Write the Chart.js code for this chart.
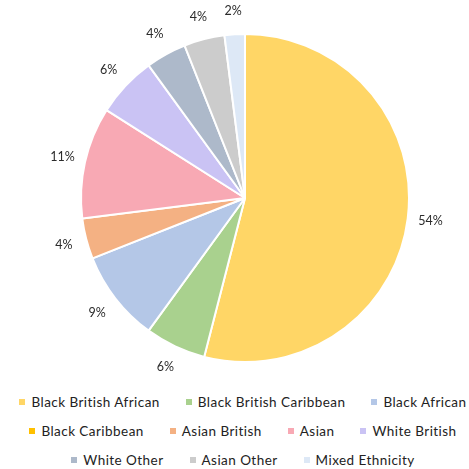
<!DOCTYPE html>
<html>
<head>
<meta charset="utf-8">
<script src="https://cdn.jsdelivr.net/npm/chart.js@4.4.1/dist/chart.umd.min.js"></script>
<style>
  html, body { margin: 0; padding: 0; background: #ffffff; overflow: hidden; }
  #page { position: relative; width: 469px; height: 469px; }
  #plot { position: absolute; left: 0; top: 0; width: 469px; height: 385px; }
  #legend {
    position: absolute; left: 0; top: 392px; width: 486px;
    display: flex; flex-wrap: wrap; justify-content: center;
    column-gap: 26px; row-gap: 9px;
    font-family: 'Lato', 'Open Sans', sans-serif; font-size: 13.5px;
    letter-spacing: 0.45px; color: #222222;
  }
  #legend .item { display: flex; align-items: center; height: 20px; white-space: nowrap; cursor: default; }
  #legend .box { width: 6px; height: 6px; margin-right: 6px; flex: none; }
</style>
</head>
<body>
<div id="page">
  <div id="plot"><canvas id="chart"></canvas></div>
  <div id="legend"></div>
</div>
<script>
// Ethnicity breakdown (percent of total)
const categories = [
  'Black British African', 'Black British Caribbean', 'Black African',
  'Black Caribbean', 'Asian British', 'Asian', 'White British',
  'White Other', 'Asian Other', 'Mixed Ethnicity'
];
const shares = [54, 6, 9, 0, 4, 11, 6, 4, 4, 2];
const sliceColors = [
  '#FFD666', '#A9D18E', '#B4C7E7', '#FFC000', '#F4B183',
  '#F8A9B4', '#CAC3F4', '#ADB9CA', '#CCCCCC', '#DDE8F6'
];

const FONT = "'Lato', 'Open Sans', sans-serif";

// Writes each slice's percentage just outside its outer edge
const outsideLabels = {
  id: 'outsideLabels',
  afterDatasetsDraw(chart) {
    const ctx = chart.ctx;
    const meta = chart.getDatasetMeta(0);
    const values = chart.data.datasets[0].data;
    ctx.save();
    ctx.font = '12.5px ' + FONT;
    ctx.fillStyle = '#2b2b2b';
    ctx.textAlign = 'center';
    ctx.textBaseline = 'middle';
    meta.data.forEach((arc, i) => {
      if (!values[i]) return;
      const p = arc.getProps(['x', 'y', 'startAngle', 'endAngle', 'outerRadius'], true);
      const mid = (p.startAngle + p.endAngle) / 2;
      const r = p.outerRadius + 23;
      ctx.fillText(values[i] + '%', p.x + Math.cos(mid) * r, p.y + Math.sin(mid) * r);
    });
    ctx.restore();
  }
};

// Builds the legend below the pie from the chart's own legend items
const htmlLegend = {
  id: 'htmlLegend',
  afterUpdate(chart) {
    const holder = document.getElementById('legend');
    holder.innerHTML = '';
    const items = chart.options.plugins.legend.labels.generateLabels(chart);
    items.forEach(item => {
      const el = document.createElement('div');
      el.className = 'item';
      const box = document.createElement('span');
      box.className = 'box';
      box.style.background = item.fillStyle;
      const txt = document.createElement('span');
      txt.textContent = item.text;
      el.appendChild(box);
      el.appendChild(txt);
      holder.appendChild(el);
    });
  }
};

new Chart(document.getElementById('chart'), {
  type: 'pie',
  data: {
    labels: categories,
    datasets: [{
      data: shares,
      backgroundColor: sliceColors,
      borderColor: '#ffffff',
      borderWidth: 2
    }]
  },
  options: {
    responsive: true,
    maintainAspectRatio: false,
    animation: false,
    layout: { padding: { top: 33, left: 21, right: 0, bottom: 22 } },
    plugins: {
      tooltip: { enabled: false },
      legend: { display: false }
    }
  },
  plugins: [outsideLabels, htmlLegend]
});
</script>
</body>
</html>
